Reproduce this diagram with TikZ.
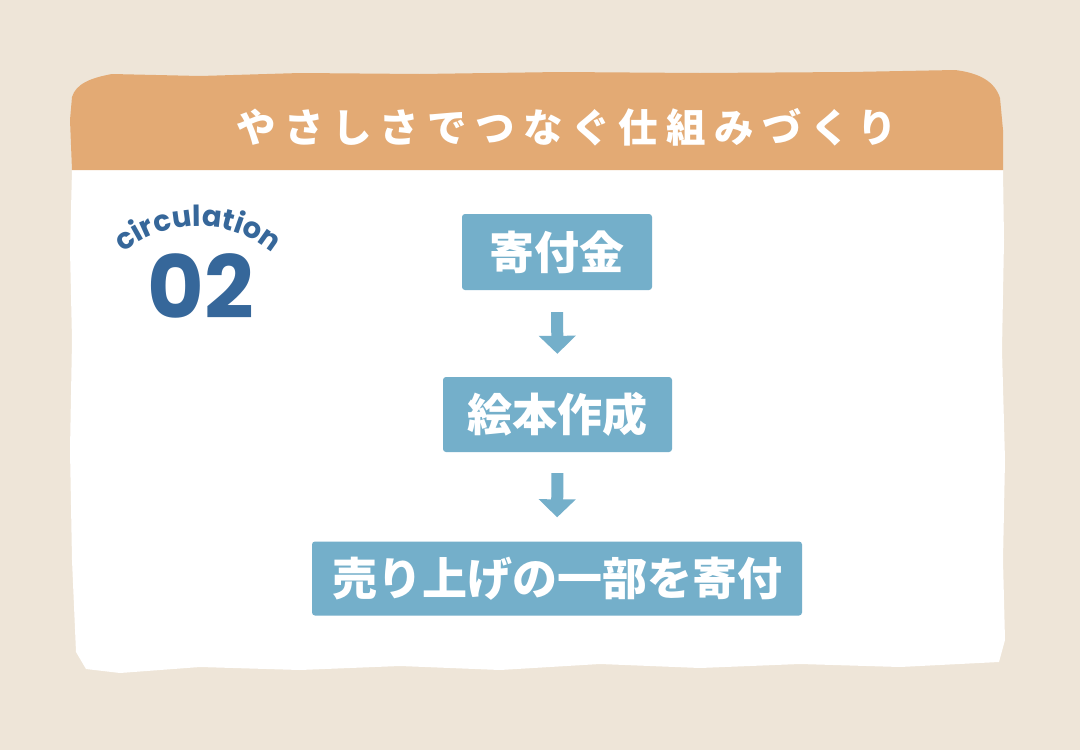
\documentclass[tikz,border=0pt]{standalone}
\usepackage{fontspec}
\usetikzlibrary{arrows.meta,decorations.text}
\newfontfamily\jpfont{Noto Sans CJK JP}
\newfontfamily\jphead[LetterSpace=21]{Noto Sans CJK JP}
\newfontfamily\badgefont{Poppins}
\definecolor{bgc}{HTML}{EEE5D8}
\definecolor{headc}{HTML}{E3AA74}
\definecolor{boxc}{HTML}{74AFCA}
\definecolor{badgec}{HTML}{36679A}
\tikzset{
  stepbox/.style={fill=boxc, rounded corners=3pt, inner sep=0pt, text=white,
    font=\jpfont\bfseries\fontsize{45}{50}\selectfont},
  flowarrow/.style={draw=boxc, line width=12pt, -{Triangle[width=36pt,length=18pt]}}
}
\begin{document}
\begin{tikzpicture}[x=1pt,y=1pt]
\useasboundingbox (0,0) rectangle (1080,-750);
\fill[bgc] (0,0) rectangle (1080,-750);
% white card
\fill[white] (72,-170) -- (1003,-170) -- (1004,-240) -- (1002,-350) -- (1005,-460) -- (1003,-560)
  -- (1005,-640) -- (999,-662) -- (900,-667) -- (800,-664) -- (700,-668) -- (600,-664)
  -- (500,-670) -- (400,-666) -- (300,-670) -- (200,-667) -- (120,-673) -- (86,-669)
  -- (76,-652) -- (72,-560) -- (70,-450) -- (72,-340) -- (70,-250) -- cycle;
% header
\fill[headc] (72,-170) -- (70,-120) -- (72,-97) .. controls (76,-84) and (90,-78) .. (112,-74)
  -- (200,-76) -- (300,-73) -- (420,-74) -- (560,-72) -- (700,-73) -- (850,-72) -- (955,-70)
  .. controls (980,-73) and (995,-82) .. (1000,-98) -- (1003,-130) -- (1003,-170) -- cycle;
\node[text=white, font=\jphead\bfseries\fontsize{39.5}{44}\selectfont, anchor=center] (title) at (567,-127) {やさしさでつなぐ仕組みづくり};
% badge
\path[decorate, decoration={text along path, text align=center, text color=badgec,
   text={|\badgefont\bfseries\fontsize{29}{32}\selectfont|circulation}}]
   (198,-342) ++(136:116) arc[start angle=136, end angle=44, radius=116];
\node[text=badgec, font=\badgefont\bfseries\fontsize{87}{90}\selectfont, inner sep=0pt] (num) at (201,-286) {02};
% flow
\node[stepbox, minimum width=190pt, minimum height=76pt] (s1) at (557,-252) {寄付金};
\node[stepbox, minimum width=229pt, minimum height=75pt] (s2) at (557.5,-414.5) {絵本作成};
\node[stepbox, minimum width=490pt, minimum height=74pt] (s3) at (557,-578.5) {売り上げの一部を寄付};
\draw[flowarrow, shorten <=22pt, shorten >=23pt] (s1.south) -- (s2.north);
\draw[flowarrow, shorten <=21pt, shorten >=24pt] (s2.south) -- (s3.north);
\end{tikzpicture}
\end{document}
